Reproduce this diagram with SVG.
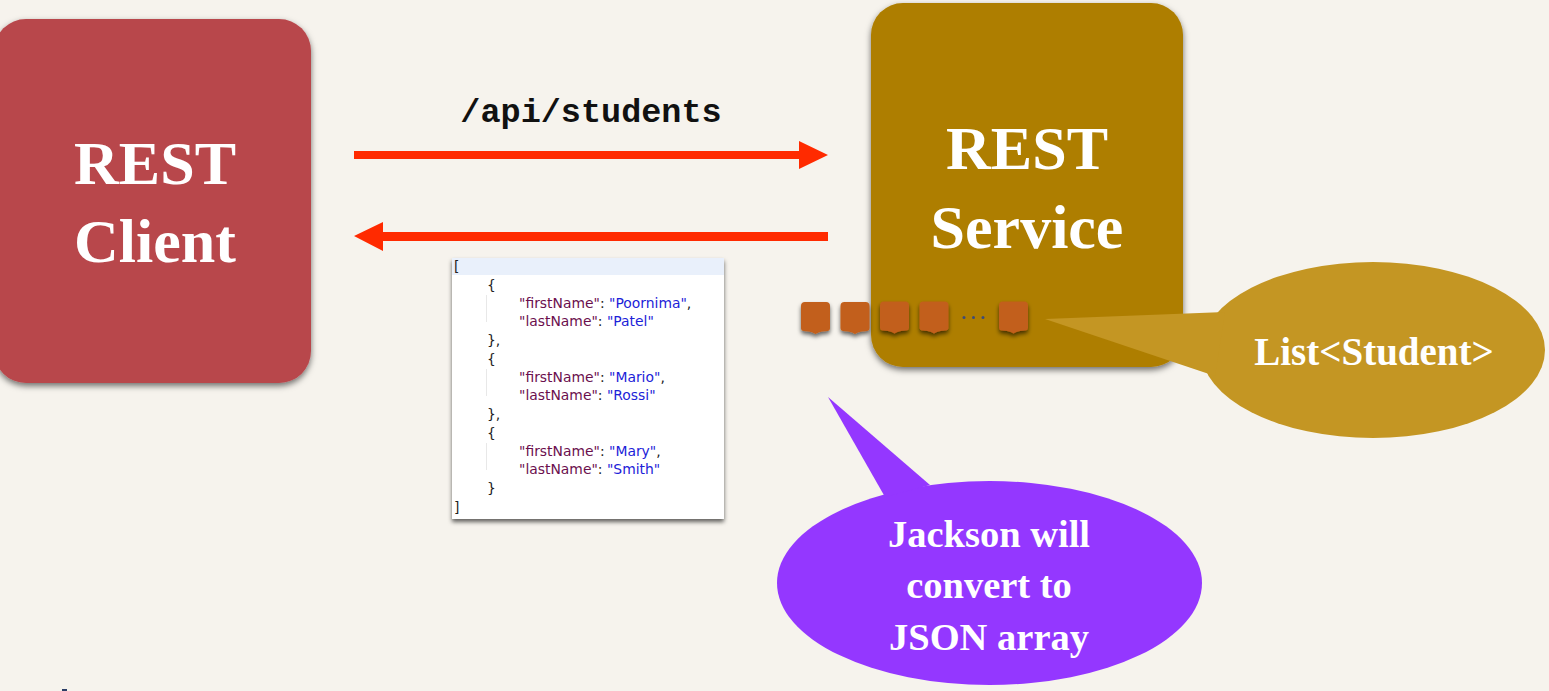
<svg xmlns="http://www.w3.org/2000/svg" width="1549" height="691" viewBox="0 0 1549 691">
<style>
.serif{font-family:"Liberation Serif","Times New Roman",serif;font-weight:bold;fill:#fff;text-anchor:middle}
.big{font-size:62px}
.mid{font-size:39px}
.bub{font-size:38.5px}
.code{font-family:"DejaVu Sans","Liberation Sans",sans-serif;font-size:13.9px;white-space:pre}
.k{fill:#6b0f4e}.s{fill:#1c22d8}.p{fill:#222}
.arrow{fill:#ff2a00}
</style>
<defs>
<filter id="sh" x="-10%" y="-10%" width="120%" height="120%"><feDropShadow dx="0" dy="3" stdDeviation="3" flood-color="#000" flood-opacity=".55"/></filter>
<filter id="shs" x="-30%" y="-30%" width="160%" height="170%"><feDropShadow dx="0" dy="3" stdDeviation="2" flood-color="#000" flood-opacity=".6"/></filter>
<path id="book" d="M0 4Q0 0 4 0H25Q29 0 29 4V26Q29 29 26 29L21 29.500Q17 30 14.500 32Q12 30 8 29.500L3 29Q0 29 0 26Z" fill="#c25f1a" filter="url(#shs)"/>
</defs>
<rect width="1549" height="691" fill="#f6f3ed"/>
<g id="rest-client"><rect x="-6" y="19" width="317" height="364" rx="32" fill="#b8474c" filter="url(#sh)"/><text class="serif big" x="155" y="184">REST</text><text class="serif big" x="155" y="262">Client</text></g>
<g id="rest-service"><rect x="871" y="3" width="312" height="364" rx="32" fill="#ae7e00" filter="url(#sh)"/><text class="serif big" x="1027" y="169">REST</text><text class="serif big" x="1027" y="248">Service</text></g>
<g id="list-items"><use href="#book" x="801" y="302"/><use href="#book" x="840.500" y="302"/><use href="#book" x="880" y="301.500"/><use href="#book" x="919.500" y="301.500"/><use href="#book" x="999" y="301.500"/><circle cx="964" cy="317.500" r="1.500" fill="#3c4a78"/><circle cx="973.500" cy="317.500" r="1.500" fill="#3c4a78"/><circle cx="983" cy="317.500" r="1.500" fill="#3c4a78"/></g>
<g id="connectors"><path class="arrow" d="M354 151H799V141L828 155L799 169V159H354Z"/><path class="arrow" d="M828 232H383V222L354 236L383 251V241H828Z"/></g>
<g id="url-label"><text x="591" y="122" font-family="'Liberation Mono','Courier New',monospace" font-weight="bold" font-size="33.500" fill="#111" text-anchor="middle">/api/students</text></g>
<g id="json-panel"><rect x="452" y="258" width="272" height="261" fill="#fff" filter="url(#shs)"/><rect x="452" y="258" width="272" height="17" fill="#e9f0fb"/><path d="M486.500 295V322M486.500 369V396M486.500 443V470" stroke="#e8e8e8" fill="none"/>
<text class="code"><tspan class="p" x="454" y="271">[</tspan><tspan class="p" x="487" y="290">{</tspan><tspan class="k" x="519" y="308">"firstName"</tspan><tspan class="p">: </tspan><tspan class="s">"Poornima"</tspan><tspan class="p">,</tspan><tspan class="k" x="519" y="326">"lastName"</tspan><tspan class="p">: </tspan><tspan class="s">"Patel"</tspan><tspan class="p" x="487" y="345">},</tspan><tspan class="p" x="487" y="364">{</tspan><tspan class="k" x="519" y="382">"firstName"</tspan><tspan class="p">: </tspan><tspan class="s">"Mario"</tspan><tspan class="p">,</tspan><tspan class="k" x="519" y="400">"lastName"</tspan><tspan class="p">: </tspan><tspan class="s">"Rossi"</tspan><tspan class="p" x="487" y="419">},</tspan><tspan class="p" x="487" y="438">{</tspan><tspan class="k" x="519" y="456">"firstName"</tspan><tspan class="p">: </tspan><tspan class="s">"Mary"</tspan><tspan class="p">,</tspan><tspan class="k" x="519" y="474">"lastName"</tspan><tspan class="p">: </tspan><tspan class="s">"Smith"</tspan><tspan class="p" x="487" y="493">}</tspan><tspan class="p" x="454" y="512">]</tspan></text></g>
<g id="list-callout"><ellipse cx="1373" cy="350" rx="172" ry="88" fill="#c49623"/><path d="M1045 319L1225 312L1215 376Z" fill="#c49623"/><text class="serif mid" x="1374" y="365">List&lt;Student&gt;</text></g>
<g id="jackson-callout"><ellipse cx="989.500" cy="583" rx="212.500" ry="102" fill="#9437ff"/><path d="M828 397L930 485L885 497Z" fill="#9437ff"/><text class="serif bub" x="989" y="547">Jackson will</text><text class="serif bub" x="989" y="598">convert to</text><text class="serif bub" x="989" y="650">JSON array</text></g>
<rect id="corner-mark" x="62" y="689" width="5" height="2" fill="#2c3e66"/>
</svg>
